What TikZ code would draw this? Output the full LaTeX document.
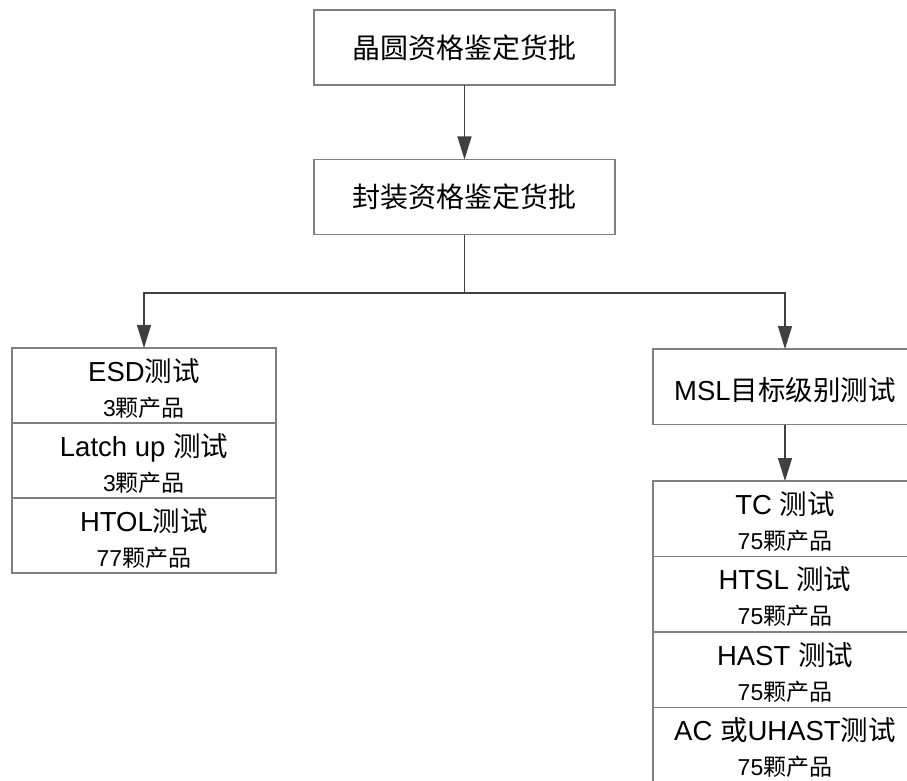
\documentclass[tikz,border=0pt]{standalone}
\usepackage{fontspec}
\setmainfont{Liberation Sans}
\newfontfamily\cjk{Noto Sans CJK SC}
\usetikzlibrary{arrows.meta,positioning}
\newcommand{\zh}[1]{{\cjk #1}}
\newcommand{\subline}[1]{{\fontsize{23}{35}\selectfont #1}}
\newcommand{\topstrut}{\rule{0pt}{28pt}}
\definecolor{boxgray}{HTML}{808080}
\definecolor{linegray}{HTML}{404040}

\begin{document}
\begin{tikzpicture}
                    [
                        x=1pt, y=-1pt,
                        rectanglenode_batch/.style={rectangle, draw=boxgray, line width=1.2pt, minimum width=301pt, minimum height=75pt, inner sep=0pt, outer sep=0pt, font=\fontsize{28}{34}\selectfont},
                        rectanglenode_test/.style={rectangle, draw=boxgray, line width=1.2pt, minimum width=264pt, minimum height=75pt, inner sep=0pt, outer sep=0pt, align=center, font=\fontsize{27.5}{35}\selectfont},
                        rectanglenode_msl/.style={rectanglenode_test, minimum height=75.5pt},
                        connector/.style={draw=linegray, line width=1.3pt, -{Triangle[length=23pt, width=14pt]}},
                    ]

                    \useasboundingbox (0,0) rectangle (907,781);
                    \clip (0,0) rectangle (907,781);

                    \node[rectanglenode_batch] (wafer) at (464.5,47.5) {\zh{晶圆资格鉴定货批}};
                    \node[rectanglenode_batch] (package) at (464.5,197) {\zh{封装资格鉴定货批}};

                    \node[rectanglenode_test, anchor=north] (esd) at (144,348) {\topstrut ESD\zh{测试}\\\subline{3\zh{颗产品}}};
                    \node[rectanglenode_test] (latchup) [below=0pt of esd] {\topstrut Latch up \zh{测试}\\\subline{3\zh{颗产品}}};
                    \node[rectanglenode_test] (htol) [below=0pt of latchup] {\topstrut HTOL\zh{测试}\\\subline{77\zh{颗产品}}};

                    \node[rectanglenode_msl, anchor=north] (msl) at (785,349) {\rule{0pt}{30pt}MSL\zh{目标级别测试}};

                    \node[rectanglenode_msl, anchor=north] (tc) at (785,481) {\topstrut TC \zh{测试}\\\subline{75\zh{颗产品}}};
                    \node[rectanglenode_msl] (htsl) [below=0pt of tc] {\topstrut HTSL \zh{测试}\\\subline{75\zh{颗产品}}};
                    \node[rectanglenode_msl] (hast) [below=0pt of htsl] {\topstrut HAST \zh{测试}\\\subline{75\zh{颗产品}}};
                    \node[rectanglenode_msl] (uhast) [below=0pt of hast] {\topstrut AC \zh{或}UHAST\zh{测试}\\\subline{75\zh{颗产品}}};

                    \coordinate (split) at (464.5,293);

                    \draw[connector] (wafer) -- (package);
                    \draw[draw=linegray, line width=1.3pt] (package) -- (split);
                    \draw[connector] (split) -| (esd);
                    \draw[connector] (split) -| (msl);
                    \draw[connector] (msl) -- (tc);

                \end{tikzpicture}
\end{document}
